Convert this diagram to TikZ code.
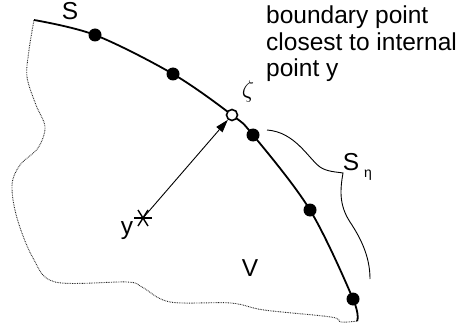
\documentclass[tikz,border=0pt]{standalone}
\usepackage{fontspec}
\setmainfont{Liberation Sans}
\usetikzlibrary{arrows.meta}
\begin{document}
\begin{tikzpicture}[x=1pt,y=-1pt,
  lbl/.style={font=\fontsize{24.5}{26.5}\selectfont, inner sep=0pt},
  bdot/.style={circle, fill=black, inner sep=0pt, minimum size=13pt},
  odot/.style={circle, draw=black, fill=white, line width=1.6pt, inner sep=0pt, minimum size=11pt},
  surf/.style={line width=1.8pt},
  dotb/.style={line width=0.9pt, dash pattern=on 0.8pt off 0.9pt, black!85},
  thinl/.style={line width=0.9pt},
  starl/.style={line width=1.4pt}]
\useasboundingbox (0,0) rectangle (462,331);
% dotted region boundary
\draw[dotb] plot[smooth, tension=0.55] coordinates {(34,20) (29,50) (27,77) (36,105) (45,127) (38,148) (20,165) (12,185) (17,218) (33,258) (55,282) (127,282) (142,287) (170,302) (231,303) (264,310) (331,317) (341,322) (358,321)};
% surface S
\draw[surf] plot[smooth, tension=0.55] coordinates {(34,20) (95,35) (173,74) (232,115) (253,135) (310,210) (353,299) (357,321)};
\node[bdot] (d1) at (95,35) {};
\node[bdot] (d2) at (173,74) {};
\node[bdot] (d3) at (253,135) {};
\node[bdot] (d4) at (310,210) {};
\node[bdot] (d5) at (353,299) {};
\node[odot] (zeta) at (232,115) {};
% internal point y
\coordinate (ys) at (143,218);
\draw[starl] ([shift={(-9,0)}]ys) -- ([shift={(9,0)}]ys);
\draw[starl] ([shift={(-5,-8)}]ys) -- ([shift={(5,8)}]ys);
\draw[starl] ([shift={(5,-8)}]ys) -- ([shift={(-5,8)}]ys);
\draw[thinl, -{Triangle[length=13pt,width=8pt]}] (ys) -- (zeta);
% brace for S_eta
\draw[thinl] (267,130) .. controls (295,132) and (308,158) .. (320,167) .. controls (327,172) and (338,172) .. (343,173) .. controls (340,190) and (339,205) .. (350,222) .. controls (362,240) and (370,258) .. (370,279);
% labels
\node[lbl] (lS) at (70,11) {S};
\node[lbl] (lV) at (250,268) {V};
\node[lbl] (ly) at (127,231) {y};
\node[inner sep=0pt, scale=2.4] (lz) at (248,92) {$\zeta$};
\node[lbl] (lSe) at (351,162) {S};
\node[inner sep=0pt, font=\fontsize{14}{16}\selectfont] (leta) at (368,175) {η};
\node[lbl, anchor=north west, align=left] (txt) at (266,6) {boundary point\\closest to internal\\point y};
\end{tikzpicture}
\end{document}
